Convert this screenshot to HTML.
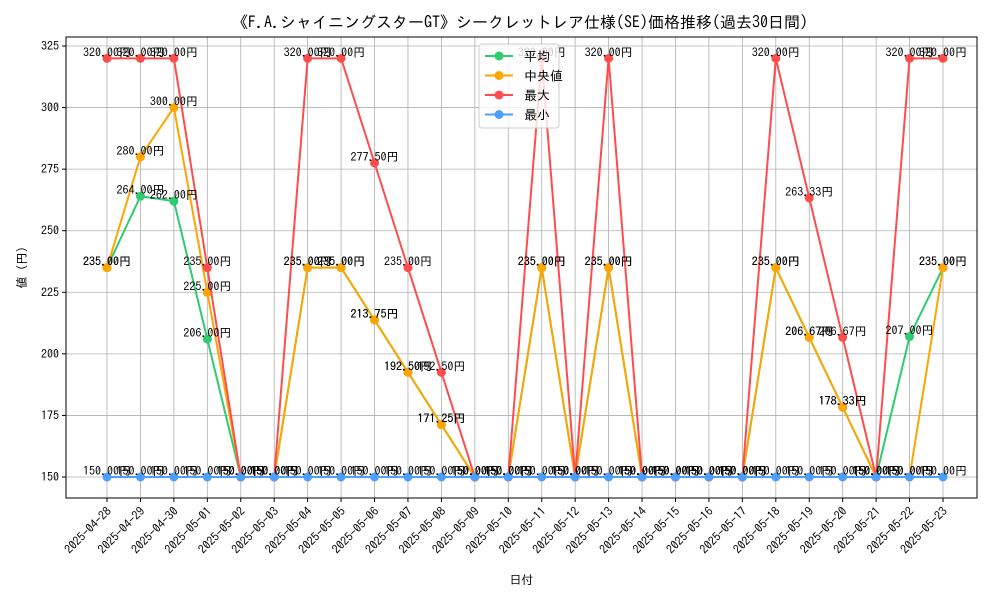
<!DOCTYPE html>
<html><head><meta charset="utf-8"><style>
body{margin:0;background:#fff}
text{font-family:"IPAGothic","Noto Sans CJK JP",sans-serif}
</style></head><body>
<svg id="chart" width="1000" height="600" xmlns="http://www.w3.org/2000/svg"></svg>
<script>
const dates=["2025-04-28","2025-04-29","2025-04-30","2025-05-01","2025-05-02","2025-05-03","2025-05-04","2025-05-05","2025-05-06","2025-05-07","2025-05-08","2025-05-09","2025-05-10","2025-05-11","2025-05-12","2025-05-13","2025-05-14","2025-05-15","2025-05-16","2025-05-17","2025-05-18","2025-05-19","2025-05-20","2025-05-21","2025-05-22","2025-05-23"];
const meanVals=[235,264,262,206,150,150,235,235,213.75,192.5,171.25,150,150,235,150,235,150,150,150,150,235,206.67,178.33,150,207,235];
const medianVals=[235,280,300,225,150,150,235,235,213.75,192.5,171.25,150,150,235,150,235,150,150,150,150,235,206.67,178.33,150,150,235];
const maxVals=[320,320,320,235,150,150,320,320,277.5,235,192.5,150,150,320,150,320,150,150,150,150,320,263.33,206.67,150,320,320];
const minVals=[150,150,150,150,150,150,150,150,150,150,150,150,150,150,150,150,150,150,150,150,150,150,150,150,150,150];
const yTicks=[150,175,200,225,250,275,300,325];
const seriesNames=["平均","中央値","最大","最小"];

const svg=document.getElementById('chart');
const NS="http://www.w3.org/2000/svg";
const L=66,R=977,T=37,B=498;
const x=i=>107+i*(943-107)/(dates.length-1);
const y=v=>477+(150-v)*(477-46)/175;
function mk(t,a,p){const e=document.createElementNS(NS,t);for(const k in a)e.setAttribute(k,a[k]);(p||svg).appendChild(e);return e;}

const title=mk('text',{x:520,y:28,'text-anchor':'middle','font-size':16});
title.textContent="《F.A.シャイニングスターGT》シークレットレア仕様(SE)価格推移(過去30日間)";



const grid=mk('g',{});


dates.forEach((d,i)=>{
  mk('line',{x1:x(i),x2:x(i),y1:T,y2:B,stroke:'#b0b0b0','stroke-width':0.8},grid);
  mk('line',{x1:x(i),x2:x(i),y1:B,y2:B+4,stroke:'#000'},svg);
  const t=mk('text',{x:0,y:0,'text-anchor':'end','font-size':12,transform:`translate(${x(i)+5},${B+14}) rotate(-45)`});
  t.textContent=d;
  
  
});
yTicks.forEach(v=>{
  mk('line',{x1:L,x2:R,y1:y(v),y2:y(v),stroke:'#b0b0b0','stroke-width':0.8},grid);
  mk('line',{x1:L-4,x2:L,y1:y(v),y2:y(v),stroke:'#000'});
  const t=mk('text',{x:L-7,y:y(v)+4,'text-anchor':'end','font-size':12});
  t.textContent=v;
  
  
});
const frame=mk('rect',{x:L,y:T,width:R-L,height:B-T,fill:'none',stroke:'#000','stroke-width':1});



const xt=mk('text',{x:(L+R)/2,y:584,'text-anchor':'middle','font-size':12});
xt.textContent="日付";


const yt=mk('text',{x:0,y:0,'text-anchor':'middle','font-size':12,transform:`translate(26,${(T+B)/2}) rotate(-90)`});
yt.textContent="値 (円)";



const series=[[meanVals,'#2ecc71'],[medianVals,'#ffa500'],[maxVals,'#ff4d4d'],[minVals,'#4d9fff']];
series.forEach(([vals,c],s)=>{
  const g=mk('g',{});
  
  
  mk('polyline',{points:vals.map((v,i)=>x(i)+','+y(v)).join(' '),fill:'none',stroke:c,'stroke-width':2},g);
  vals.forEach((v,i)=>{
    const p=mk('circle',{cx:x(i),cy:y(v),r:4.5,fill:c},g);
    
    
  });
});
series.forEach(([vals],s)=>{
  vals.forEach((v,i)=>{
    const t=mk('text',{x:x(i),y:y(v)-2,'text-anchor':'middle','font-size':12});
    t.textContent=v.toFixed(2)+"円";
    
    
  });
});

const lg=mk('g',{});


mk('rect',{x:479,y:44,width:80,height:84,rx:3,fill:'#fff','fill-opacity':0.8,stroke:'#ccc'},lg);
seriesNames.forEach((n,i)=>{
  const e=mk('g',{},lg);
  
  
  const yy=56+i*19.5;
  mk('line',{x1:485,x2:513,y1:yy,y2:yy,stroke:series[i][1],'stroke-width':2},e);
  mk('circle',{cx:499,cy:yy,r:4.5,fill:series[i][1]},e);
  const t=mk('text',{x:524,y:yy+5,'font-size':13},e);
  t.textContent=n;
});
</script>
</body></html>
